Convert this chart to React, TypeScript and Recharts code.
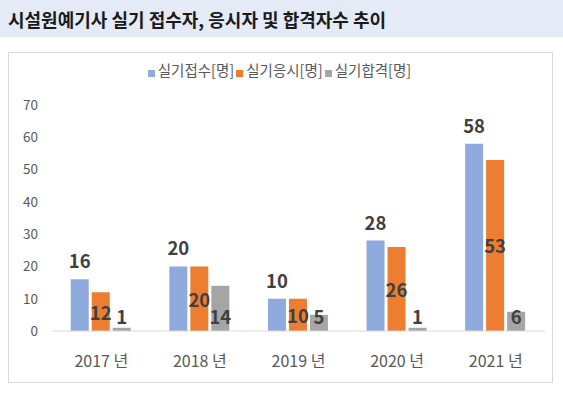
import { Bar, BarChart, LabelList, Legend, XAxis, YAxis } from "recharts";

const years = ["2017 년", "2018 년", "2019 년", "2020 년", "2021 년"];
const applied = [16, 20, 10, 28, 58];
const tested = [12, 20, 10, 26, 53];
const passed = [1, 14, 5, 1, 6];
const yTicks = [0, 10, 20, 30, 40, 50, 60, 70];

const seriesInfo = [
  { key: "applied", name: "실기접수[명]", color: "#8FAADC" },
  { key: "tested", name: "실기응시[명]", color: "#ED7D31" },
  { key: "passed", name: "실기합격[명]", color: "#A5A5A5" },
];

const data = years.map((year, i) => ({
  year,
  applied: applied[i],
  tested: tested[i],
  passed: passed[i],
}));

const FONT = "'Noto Sans CJK KR', 'Noto Sans', sans-serif";
const labelStyle = { fontSize: 18.5, fontWeight: 700, fill: "#404040", fontFamily: FONT };

function CenterLabel(props: any) {
  const { x, y, width, height, value } = props;
  return (
    <text x={x + width / 2} y={y + height / 2} textAnchor="middle" dominantBaseline="central" {...labelStyle}>
      {value}
    </text>
  );
}

// inside-base label: sits just above the axis regardless of bar height
function BaseLabel(props: any) {
  const { x, y, width, height, value } = props;
  return (
    <text x={x + width / 2} y={y + height - 15} textAnchor="middle" dominantBaseline="central" {...labelStyle}>
      {value}
    </text>
  );
}

function LegendBox() {
  return (
    <div style={{ display: "flex", justifyContent: "center", fontFamily: FONT, fontSize: 14.5, color: "#595959", lineHeight: "18px" }}>
      {seriesInfo.map((s) => (
        <span key={s.key} style={{ display: "inline-flex", alignItems: "center", marginRight: 2 }}>
          <span style={{ width: 7, height: 7, background: s.color, display: "inline-block", marginRight: 3, marginTop: 6 }} />
          {s.name}
        </span>
      ))}
    </div>
  );
}

export default function App() {
  return (
    <div style={{ position: "absolute", left: 0, top: 0, width: 563, height: 395, background: "#fff", fontFamily: FONT }}>
      <div
        style={{
          height: 37,
          background: "#E4EAF6",
          display: "flex",
          alignItems: "center",
          paddingLeft: 8,
          fontSize: 18,
          fontWeight: 700,
          color: "#1a1a1a",
        }}
      >
        시설원예기사 실기 접수자, 응시자 및 합격자수 추이
      </div>
      <div
        style={{
          position: "absolute",
          left: 8,
          top: 52,
          width: 545,
          height: 331,
          border: "1px solid #D9D9D9",
          boxSizing: "border-box",
        }}
      >
        <BarChart
          width={543}
          height={329}
          data={data}
          margin={{ top: 34, right: 7, bottom: 0, left: 0 }}
          barCategoryGap="19%"
          barGap={3}
        >
          <Legend verticalAlign="top" content={<LegendBox />} wrapperStyle={{ top: 8, left: 0, width: 543 }} />
          <XAxis
            dataKey="year"
            axisLine={{ stroke: "#D9D9D9" }}
            tickLine={false}
            tickSize={0}
            tickMargin={25}
            height={51}
            tick={{ fontSize: 16, fill: "#595959", fontFamily: FONT }}
          />
          <YAxis
            domain={[0, 70]}
            ticks={yTicks}
            axisLine={false}
            tickLine={false}
            tickSize={0}
            tickMargin={14}
            width={43}
            tick={{ fontSize: 13.5, fill: "#595959", fontFamily: FONT }}
          />
          {seriesInfo.map((s) => (
            <Bar key={s.key} dataKey={s.key} name={s.name} fill={s.color} isAnimationActive={false}>
              {s.key === "applied" && <LabelList dataKey={s.key} position="top" offset={11} style={labelStyle} />}
              {s.key === "tested" && <LabelList dataKey={s.key} content={<CenterLabel />} />}
              {s.key === "passed" && <LabelList dataKey={s.key} content={<BaseLabel />} />}
            </Bar>
          ))}
        </BarChart>
      </div>
    </div>
  );
}
